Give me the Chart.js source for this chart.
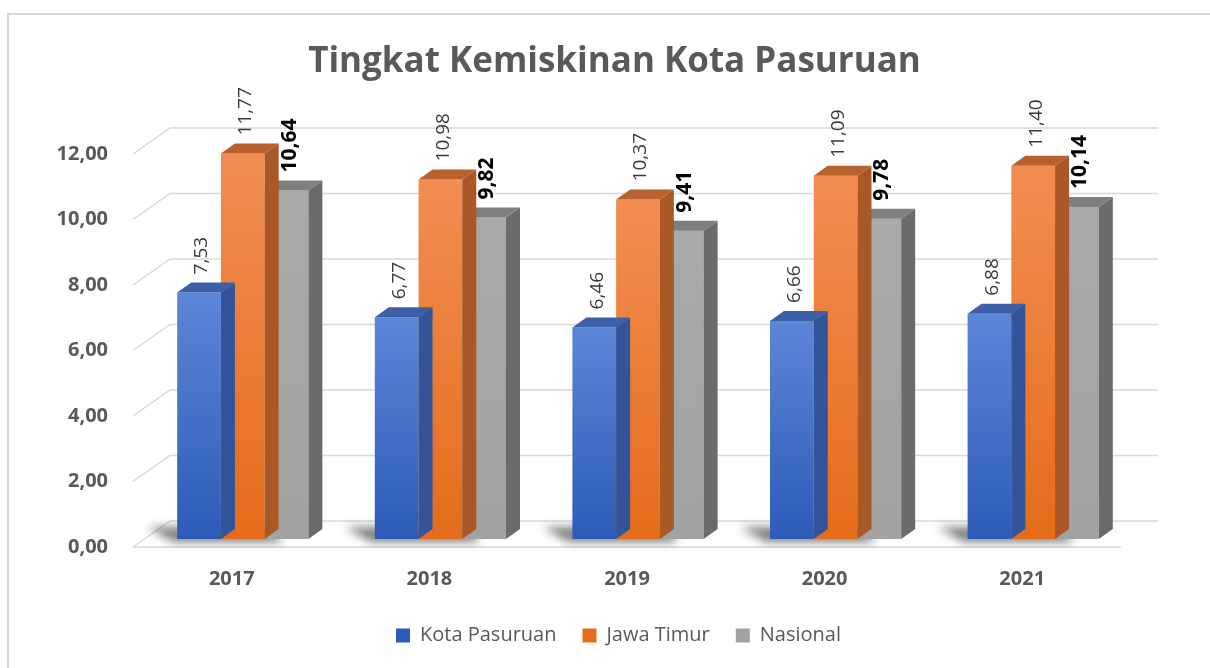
<!DOCTYPE html>
<html>
<head>
<meta charset="utf-8">
<title>Tingkat Kemiskinan Kota Pasuruan</title>
<script src="https://cdn.jsdelivr.net/npm/chart.js@4.4.1/dist/chart.umd.min.js"></script>
<style>
  html, body { margin: 0; padding: 0; background: #fff; }
  #wrap { width: 1210px; height: 668px; }
</style>
</head>
<body>
<div id="wrap"><canvas id="chart" width="1210" height="668"></canvas></div>
<script>
// data
const years = ['2017', '2018', '2019', '2020', '2021'];
const kotaPasuruan = [7.53, 6.77, 6.46, 6.66, 6.88];
const jawaTimur = [11.77, 10.98, 10.37, 11.09, 11.40];
const nasional = [10.64, 9.82, 9.41, 9.78, 10.14];
const yTicks = [0, 2, 4, 6, 8, 10, 12];

const fmt = v => v.toFixed(2).replace('.', ',');
const FONT = "'Open Sans', sans-serif";
const TEXT = '#595959';

// fake 3d geometry (pixels)
const WALL = { dx: 37, dy: -26 };   // back wall offset from the front plane
const SHIFT = { dx: 11, dy: -8 };   // bars stand a bit inside the floor
const DEPTH = { dx: 14, dy: -10 };  // depth of each bar

const looks = [
  { top: '#5c86d7', bottom: '#2d5bb8', legend: '#4472c4', cap: '#3c5fa7', side: '#33549a', label: '#3a3a3a', bold: false },
  { top: '#f28d52', bottom: '#e46c1a', legend: '#ed7d31', cap: '#b8612f', side: '#a95826', label: '#3a3a3a', bold: false },
  { top: '#a9a9a9', bottom: '#a2a2a2', legend: '#a5a5a5', cap: '#7f7f7f', side: '#6b6b6b', label: '#000000', bold: true }
];

function frontFill(i) {
  return (c) => {
    const look = looks[i];
    if (c.type !== 'data' || !c.chart.scales.y) return look.legend;
    const y = c.chart.scales.y;
    const y0 = y.getPixelForValue(c.raw);
    const y1 = y.getPixelForValue(0);
    if (!isFinite(y0) || !isFinite(y1) || y0 === y1) return look.legend;
    const g = c.chart.ctx.createLinearGradient(0, y0, 0, y1);
    g.addColorStop(0, look.top);
    g.addColorStop(1, look.bottom);
    return g;
  };
}

const bar3d = {
  id: 'bar3d',
  beforeDraw(chart) {
    const ctx = chart.ctx;
    ctx.save();
    ctx.strokeStyle = '#d9d9d9';
    ctx.lineWidth = 2;
    ctx.strokeRect(8, 14, 1400, 900);
    ctx.restore();
  },
  afterLayout(chart) {
    // title and legend sit right of the plot centre in the original
    chart.titleBlock.left += 54;
    chart.titleBlock.right += 54;
    chart.legend.left += 58;
    chart.legend.right += 58;
  },
  beforeDatasetsDraw(chart) {
    const { ctx, chartArea: a, scales: { y } } = chart;
    ctx.save();
    ctx.strokeStyle = '#d9d9d9';
    ctx.lineWidth = 1.5;
    yTicks.forEach(v => {
      const py = y.getPixelForValue(v);
      ctx.beginPath();
      ctx.moveTo(a.left, py);
      ctx.lineTo(a.left + WALL.dx, py + WALL.dy);
      ctx.lineTo(a.right + WALL.dx, py + WALL.dy);
      ctx.stroke();
    });
    const py0 = y.getPixelForValue(0);
    ctx.beginPath();
    ctx.moveTo(a.left, py0);
    ctx.lineTo(a.right, py0);
    ctx.stroke();

    ctx.translate(SHIFT.dx, SHIFT.dy);

    // soft shadow of each group on the floor
    const first = chart.getDatasetMeta(0).data;
    const last = chart.getDatasetMeta(2).data;
    ctx.save();
    ctx.filter = 'blur(5px)';
    ctx.fillStyle = 'rgba(0,0,0,0.5)';
    first.forEach((b, j) => {
      const l = b.x - b.width / 2;
      const e = last[j];
      const r = e.x + e.width / 2;
      const base = b.base;
      ctx.beginPath();
      ctx.moveTo(l - 30, base - 12);
      ctx.lineTo(l - 4, base + 3);
      ctx.lineTo(r - 25, base + 3);
      ctx.lineTo(r - 40, base - 12);
      ctx.closePath();
      ctx.fill();
    });
    ctx.restore();
  },
  afterDatasetDraw(chart, args) {
    const ctx = chart.ctx;
    const look = looks[args.index];
    args.meta.data.forEach(bar => {
      const { x, y, base, width } = bar.getProps(['x', 'y', 'base', 'width'], true);
      const l = x - width / 2;
      const r = x + width / 2;
      ctx.fillStyle = look.side;
      ctx.beginPath();
      ctx.moveTo(r, y);
      ctx.lineTo(r + DEPTH.dx, y + DEPTH.dy);
      ctx.lineTo(r + DEPTH.dx, base + DEPTH.dy);
      ctx.lineTo(r, base);
      ctx.closePath();
      ctx.fill();
      ctx.fillStyle = look.cap;
      ctx.beginPath();
      ctx.moveTo(l, y);
      ctx.lineTo(l + DEPTH.dx, y + DEPTH.dy);
      ctx.lineTo(r + DEPTH.dx, y + DEPTH.dy);
      ctx.lineTo(r, y);
      ctx.closePath();
      ctx.fill();
    });
  },
  afterDatasetsDraw(chart) {
    const ctx = chart.ctx;
    ctx.restore();
    chart.data.datasets.forEach((ds, i) => {
      const look = looks[i];
      chart.getDatasetMeta(i).data.forEach((bar, j) => {
        const tx = bar.x + SHIFT.dx + 3;
        const ty = bar.y + SHIFT.dy + DEPTH.dy - 8;
        ctx.save();
        ctx.translate(tx, ty);
        ctx.rotate(-Math.PI / 2);
        ctx.font = (look.bold ? 'bold 21px ' : '19px ') + FONT;
        ctx.fillStyle = look.label;
        ctx.textAlign = 'left';
        ctx.textBaseline = 'middle';
        ctx.fillText(fmt(ds.data[j]), 0, 0);
        ctx.restore();
      });
    });
  }
};

new Chart(document.getElementById('chart'), {
  type: 'bar',
  data: {
    labels: years,
    datasets: [
      { label: 'Kota Pasuruan', data: kotaPasuruan, backgroundColor: frontFill(0) },
      { label: 'Jawa Timur', data: jawaTimur, backgroundColor: frontFill(1) },
      { label: 'Nasional', data: nasional, backgroundColor: frontFill(2) }
    ]
  },
  options: {
    responsive: false,
    animation: false,
    events: [],
    clip: false,
    borderWidth: 0,
    categoryPercentage: 0.664,
    barPercentage: 1.0,
    layout: { padding: { left: 0, right: 89, top: 0, bottom: 12.5 } },
    scales: {
      x: {
        grid: { display: false, drawTicks: false },
        border: { display: false },
        ticks: { color: TEXT, padding: 20, font: { family: FONT, size: 20, weight: 'bold' } },
        afterFit(scale) { scale.height = 52.5; }
      },
      y: {
        min: 0,
        max: 12,
        grid: { display: false, drawTicks: false },
        border: { display: false },
        ticks: {
          stepSize: 2,
          padding: 25,
          color: TEXT,
          font: { family: FONT, size: 20, weight: 'bold' },
          callback: v => fmt(v)
        },
        afterFit(scale) { scale.width = 133; }
      }
    },
    plugins: {
      title: {
        display: true,
        text: 'Tingkat Kemiskinan Kota Pasuruan',
        color: TEXT,
        font: { family: FONT, size: 35, weight: 'bold' },
        padding: { top: 41, bottom: 71 }
      },
      legend: {
        position: 'bottom',
        labels: {
          boxWidth: 14,
          boxHeight: 14,
          padding: 26,
          color: TEXT,
          font: { family: FONT, size: 20 }
        }
      },
      tooltip: { enabled: false }
    }
  },
  plugins: [bar3d]
});
</script>
</body>
</html>
